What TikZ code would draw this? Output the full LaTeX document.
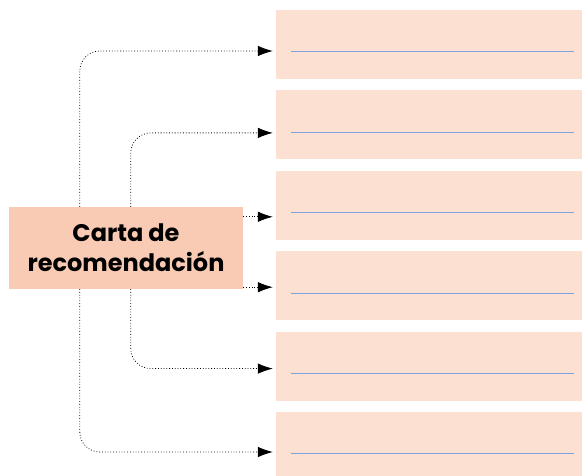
\documentclass[tikz,border=0pt]{standalone}
\usepackage{fontspec}
\setmainfont{Poppins}
\usetikzlibrary{arrows.meta, positioning}
\definecolor{cardfill}{HTML}{FACBB4}
\definecolor{fieldfill}{HTML}{FCE0D1}
\definecolor{ruleblue}{HTML}{7EA2E2}

\begin{document}
\begin{tikzpicture}[x=1pt, y=-1pt, node distance=11pt,
    field/.style={rectangle, fill=fieldfill, minimum width=306pt, minimum height=69pt, inner sep=0pt},
    link/.style={line width=0.8pt, dotted, rounded corners=20pt, -{Latex[length=15pt, width=10.5pt]}},
    rule/.style={ruleblue, line width=0.8pt}]
    \useasboundingbox (0,0) rectangle (582,476);
    \node [rectangle, fill=cardfill, minimum width=234pt, minimum height=82pt, align=center, font=\fontsize{24}{30}\selectfont\bfseries] (card) at (126,248) {Carta de\\recomendación};
    \node [field] (f1) at (429,44.5) {};
    \node [field, below=of f1] (f2) {};
    \node [field, below=of f2] (f3) {};
    \node [field, below=of f3] (f4) {};
    \node [field, below=of f4] (f5) {};
    \node [field, minimum height=66pt, below=of f5] (f6) {};
    
    \draw [rule] ([xshift=15pt, yshift=-42pt]f1.north west) -- ([xshift=-8pt, yshift=-42pt]f1.north east);
    \draw [rule] ([xshift=15pt, yshift=-42pt]f2.north west) -- ([xshift=-8pt, yshift=-42pt]f2.north east);
    \draw [rule] ([xshift=15pt, yshift=-42pt]f3.north west) -- ([xshift=-8pt, yshift=-42pt]f3.north east);
    \draw [rule] ([xshift=15pt, yshift=-42pt]f4.north west) -- ([xshift=-8pt, yshift=-42pt]f4.north east);
    \draw [rule] ([xshift=15pt, yshift=-42pt]f5.north west) -- ([xshift=-8pt, yshift=-42pt]f5.north east);
    \draw [rule] ([xshift=15pt, yshift=-42pt]f6.north west) -- ([xshift=-8pt, yshift=-42pt]f6.north east);
    
    \coordinate (a1) at ([xshift=-3pt, yshift=-6.5pt]f1.west);
    \coordinate (a2) at ([xshift=-3pt, yshift=-8pt]f2.west);
    \coordinate (a3) at ([xshift=-3pt, yshift=-11.5pt]f3.west);
    \coordinate (a4) at ([xshift=-3pt, yshift=-1.5pt]f4.west);
    \coordinate (a5) at ([xshift=-3pt, yshift=-2.5pt]f5.west);
    \coordinate (a6) at ([xshift=-3pt, yshift=-7pt]f6.west);
    
    \draw [link] ([xshift=71pt]card.north west) |- (a1);
    \draw [link] ([xshift=122pt]card.north west) |- (a2);
    \draw [link] (card.east |- a3) -- (a3);
    \draw [link] (card.east |- a4) -- (a4);
    \draw [link] ([xshift=122pt]card.south west) |- (a5);
    \draw [link] ([xshift=71pt]card.south west) |- (a6);
\end{tikzpicture}
\end{document}
